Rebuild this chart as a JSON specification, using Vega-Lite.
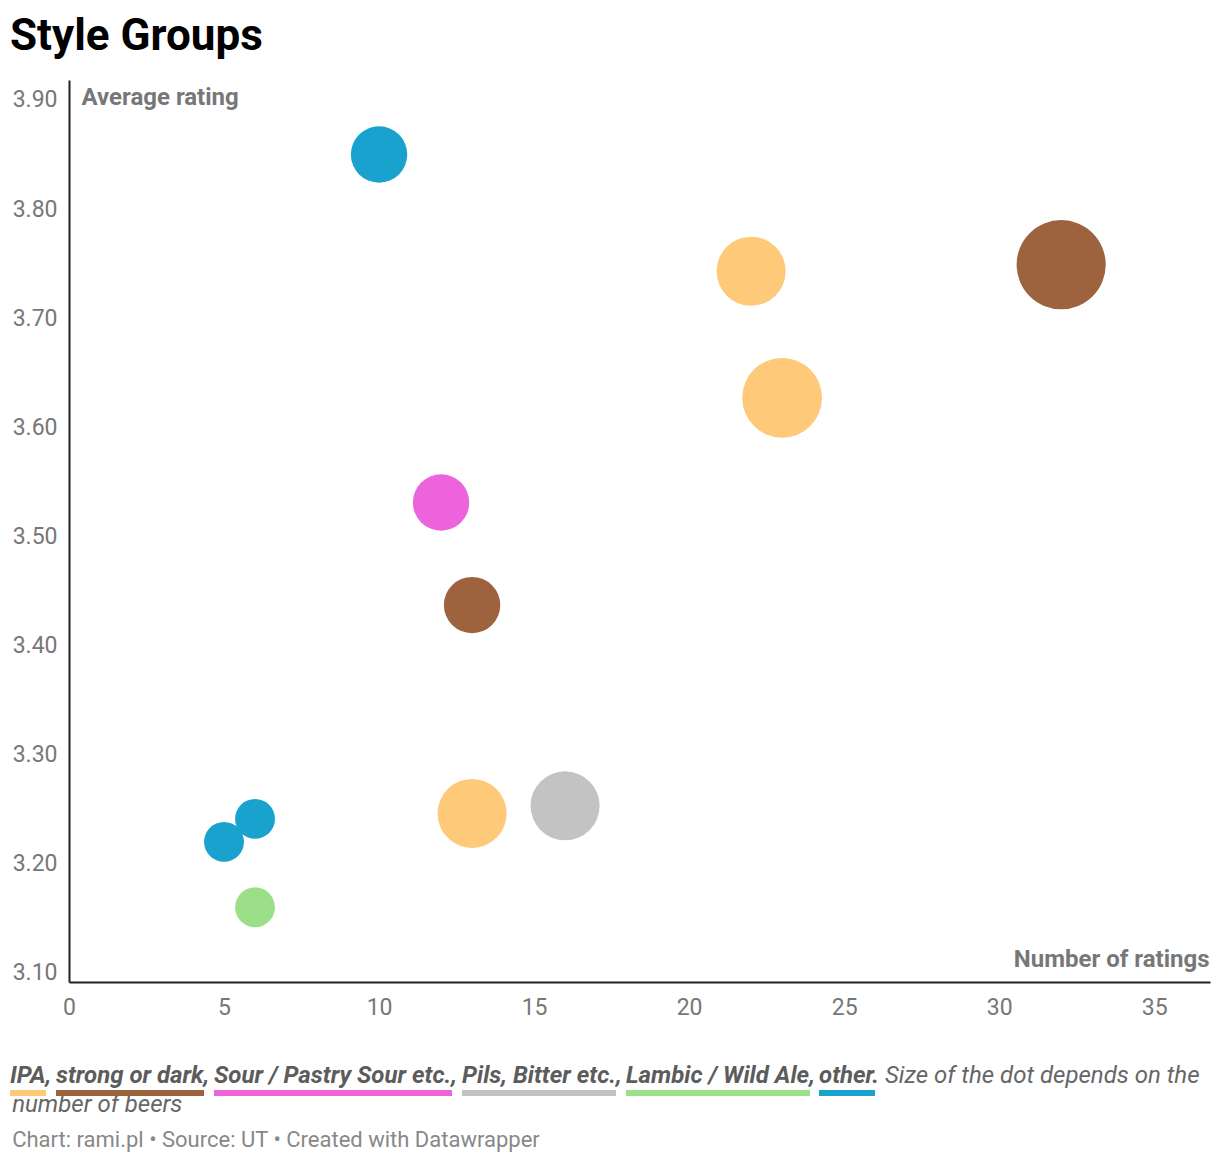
{
  "$schema": "https://vega.github.io/schema/vega-lite/v6.json",
  "background": "white",
  "padding": {"left": 10, "top": 15, "right": 10, "bottom": 5},
  "title": {
    "text": "Style Groups",
    "anchor": "start",
    "font": "Roboto",
    "fontSize": 44,
    "fontWeight": "bold",
    "color": "#000000",
    "offset": 21
  },
  "data": {
    "values": [
      {"style": "other", "ratings": 10, "rating": 3.85, "beers": 2},
      {"style": "IPA", "ratings": 22, "rating": 3.743, "beers": 3},
      {"style": "strong or dark", "ratings": 32, "rating": 3.749, "beers": 5},
      {"style": "IPA", "ratings": 23, "rating": 3.627, "beers": 4},
      {"style": "Sour / Pastry Sour etc.", "ratings": 12, "rating": 3.531, "beers": 2},
      {"style": "strong or dark", "ratings": 13, "rating": 3.437, "beers": 2},
      {"style": "IPA", "ratings": 13, "rating": 3.246, "beers": 3},
      {"style": "Pils, Bitter etc.", "ratings": 16, "rating": 3.253, "beers": 3},
      {"style": "other", "ratings": 6, "rating": 3.241, "beers": 1},
      {"style": "other", "ratings": 5, "rating": 3.22, "beers": 1},
      {"style": "Lambic / Wild Ale", "ratings": 6, "rating": 3.16, "beers": 1}
    ]
  },
  "vconcat": [
    {
      "width": 1141,
      "height": 902,
      "title": {
        "text": "number of beers",
        "subtitle": "Chart: rami.pl • Source: UT • Created with Datawrapper",
        "orient": "bottom",
        "anchor": "start",
        "font": "Roboto",
        "fontSize": 24,
        "fontStyle": "italic",
        "fontWeight": "normal",
        "color": "#666666",
        "subtitleFont": "Roboto",
        "subtitleFontSize": 22,
        "subtitleColor": "#888888",
        "subtitlePadding": 13,
        "offset": 74
      },
      "mark": {"type": "circle", "opacity": 1},
      "encoding": {
        "x": {
          "field": "ratings",
          "type": "quantitative",
          "scale": {"domain": [0, 36.8], "nice": false, "zero": false},
          "axis": {
            "title": "Number of ratings",
            "titleFont": "Roboto",
            "titleFontSize": 24,
            "titleFontWeight": "bold",
            "titleColor": "#777777",
            "titleAnchor": "end",
            "titleAlign": "right",
            "titleX": 1140,
            "titleY": -16,
            "titleBaseline": "alphabetic",
            "values": [0, 5, 10, 15, 20, 25, 30, 35],
            "labelFont": "Roboto",
            "labelFontSize": 23,
            "labelColor": "#777777",
            "labelPadding": 14,
            "labelFlush": false,
            "ticks": false,
            "grid": false,
            "domainColor": "#222222",
            "domainWidth": 2
          }
        },
        "y": {
          "field": "rating",
          "type": "quantitative",
          "scale": {"domain": [3.0915, 3.9183], "nice": false, "zero": false},
          "axis": {
            "title": "Average rating",
            "titleFont": "Roboto",
            "titleFontSize": 24,
            "titleFontWeight": "bold",
            "titleColor": "#777777",
            "titleAngle": 0,
            "titleAlign": "left",
            "titleBaseline": "top",
            "titleX": 12,
            "titleY": 5,
            "values": [3.1, 3.2, 3.3, 3.4, 3.5, 3.6, 3.7, 3.8, 3.9],
            "format": ".2f",
            "labelFont": "Roboto",
            "labelFontSize": 23,
            "labelColor": "#777777",
            "labelPadding": 12,
            "labelFlush": false,
            "ticks": false,
            "grid": false,
            "domainColor": "#222222",
            "domainWidth": 2
          }
        },
        "size": {
          "field": "beers",
          "type": "quantitative",
          "scale": {"domain": [0, 5], "range": [0, 7948]},
          "legend": null
        },
        "color": {
          "field": "style",
          "type": "nominal",
          "scale": {
            "domain": ["IPA", "strong or dark", "Sour / Pastry Sour etc.", "Pils, Bitter etc.", "Lambic / Wild Ale", "other"],
            "range": ["#fec978", "#9c633e", "#ec63db", "#c3c3c3", "#9be089", "#18a2cd"]
          },
          "legend": {
            "orient": "none",
            "legendX": -59,
            "legendY": 984,
            "direction": "horizontal",
            "title": "Size of the dot depends on the",
            "titleOrient": "right",
            "titleFont": "Roboto",
            "titleFontSize": 24,
            "titleFontStyle": "italic",
            "titleFontWeight": "normal",
            "titleColor": "#666666",
            "titlePadding": 6,
            "titleAnchor": "start",
            "titleBaseline": "top",
            "titleLimit": 500,
            "labelFont": "Roboto",
            "labelFontSize": 24,
            "labelFontStyle": "italic",
            "labelFontWeight": "bold",
            "labelColor": "#5c5c5c",
            "labelLimit": 500,
            "labelOffset": -24,
            "labelExpr": "datum.label + (datum.label === 'other' ? '.' : ',')",
            "columnPadding": 4,
            "symbolType": "square",
            "symbolSize": 4,
            "symbolStrokeWidth": 0,
            "symbolOpacity": 1,
            "encode": {
              "symbols": {
                "update": {
                  "shape": {
                    "signal": "datum.value === 'IPA' ? 'M-12,14h36v6h-36z' : datum.value === 'strong or dark' ? 'M-12,14h148v6h-148z' : datum.value === 'Sour / Pastry Sour etc.' ? 'M-12,14h238v6h-238z' : datum.value === 'Pils, Bitter etc.' ? 'M-12,14h154v6h-154z' : datum.value === 'Lambic / Wild Ale' ? 'M-12,14h184v6h-184z' : 'M-12,14h56v6h-56z'"
                  }
                }
              }
            }
          }
        }
      }
    }
  ],
  "config": {
    "view": {"stroke": null},
    "font": "Roboto"
  }
}
